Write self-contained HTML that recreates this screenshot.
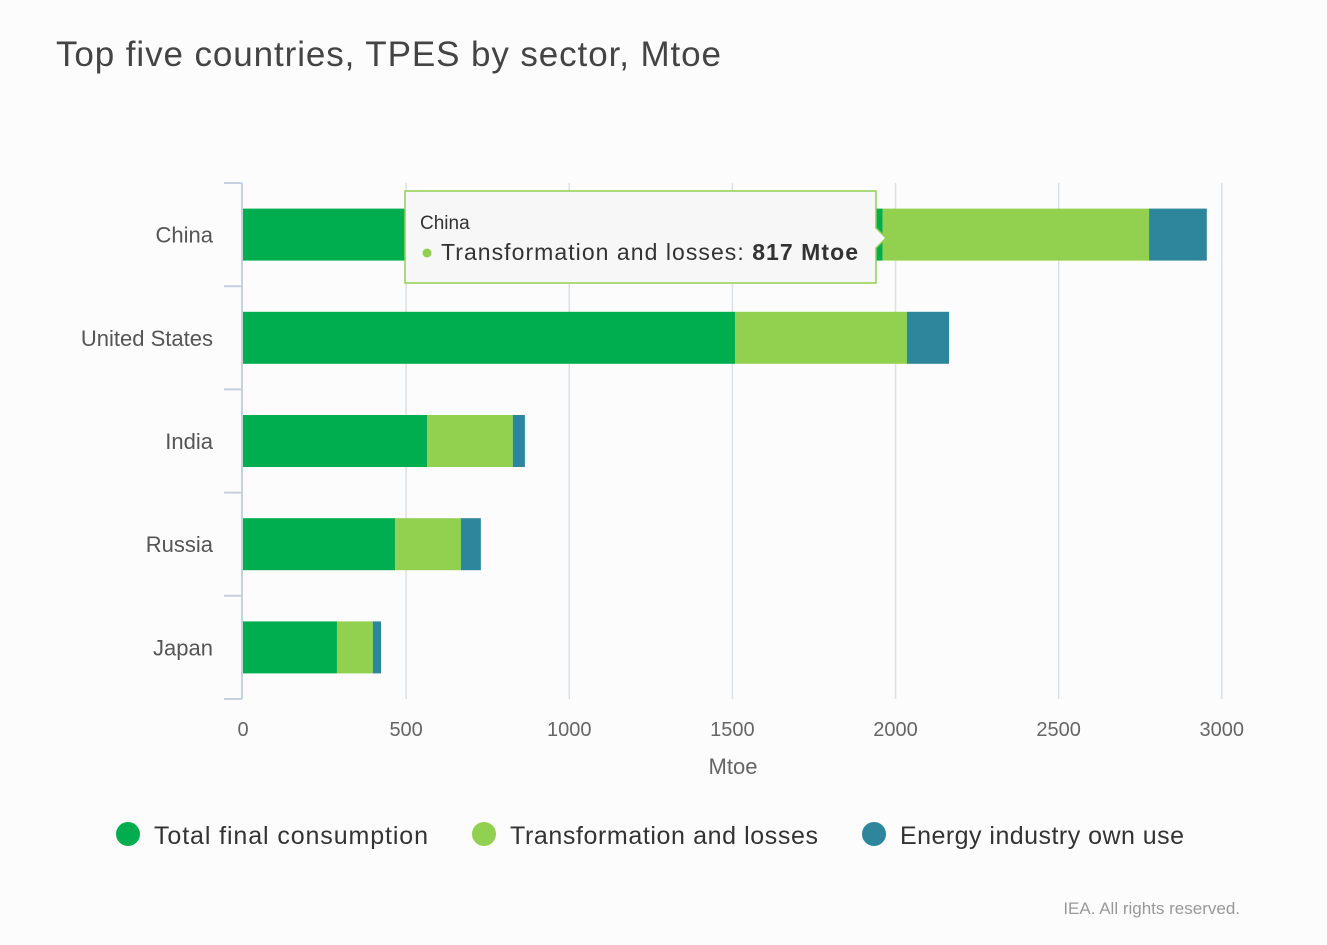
<!DOCTYPE html>
<html><head><meta charset="utf-8"><style>
body{margin:0;background:#fcfcfc;font-family:"Liberation Sans",sans-serif;}
#wrap{position:relative;width:1327px;height:945px;overflow:hidden;background:#fcfcfc}
</style></head><body>
<div id="wrap">
<svg id="chart" width="1327" height="945">
<text x="56" y="66" font-size="35" fill="#444" textLength="665">Top five countries, TPES by sector, Mtoe</text>
<g id="grid"></g><g id="bars"></g><g id="axes"></g>
<text x="733" y="774" text-anchor="middle" font-size="22" fill="#666">Mtoe</text>
<g>
<g><circle cx="128" cy="834" r="12" fill="#00ae4f"/><text x="154" y="844" font-size="25" fill="#333" textLength="274">Total final consumption</text></g>
<g><circle cx="484" cy="834" r="12" fill="#92d050"/><text x="510" y="844" font-size="25" fill="#333" textLength="308">Transformation and losses</text></g>
<g><circle cx="874" cy="834" r="12" fill="#2e869c"/><text x="900" y="844" font-size="25" fill="#333" textLength="284">Energy industry own use</text></g>
</g>
<text x="1240" y="914" text-anchor="end" font-size="17" fill="#999">IEA. All rights reserved.</text>
<g>
<path d="M405,191 H876 V228 L886,238 L876,248 V283 H405 Z" fill="#f7f7f7" stroke="#92d050" stroke-width="1.5"/>
<text x="420" y="229" font-size="19" fill="#333">China</text>
<circle cx="427" cy="253" r="4.5" fill="#92d050"/>
<text x="441" y="260" font-size="23" fill="#333" textLength="417">Transformation and losses: <tspan font-weight="bold">817 Mtoe</tspan></text>
</g>
</svg>
</div>
<script>
const categories=["China","United States","India","Russia","Japan"];
const totalFinal=[1960,1508,564,466,288];
const transformation=[817,527,263,202,110];
const ownUse=[177,129,37,61,25];
const xTicks=[0,500,1000,1500,2000,2500,3000];
const colors=["#00ae4f","#92d050","#2e869c"];
const ns="http://www.w3.org/2000/svg";
const x0=243,pxPer=0.32627,plotTop=183,band=103.2,barH=52;
const xs=v=>x0+v*pxPer;
function mk(t,a,p){const e=document.createElementNS(ns,t);for(const k in a)e.setAttribute(k,a[k]);p.appendChild(e);return e;}
const grid=document.getElementById('grid'),bars=document.getElementById('bars'),axes=document.getElementById('axes');
xTicks.forEach(t=>{
 if(t>0){const l=mk('line',{x1:xs(t),x2:xs(t),y1:plotTop,y2:plotTop+band*5,stroke:'#dde0e3','stroke-width':1.5},grid);
 
 }
 const tx=mk('text',{x:xs(t),y:736,'text-anchor':'middle','font-size':20,fill:'#666'},axes);tx.textContent=t;
 
 
});
const ax=mk('line',{x1:242,x2:242,y1:plotTop,y2:plotTop+band*5,stroke:'#c5d0e0','stroke-width':2},axes);


for(let i=0;i<=5;i++){const tk=mk('line',{x1:224,x2:242,y1:plotTop+band*i,y2:plotTop+band*i,stroke:'#c5d0e0','stroke-width':2},axes);
 
 }
categories.forEach((c,i)=>{
 const cy=plotTop+band*i+band/2;
 const lb=mk('text',{x:213,y:cy+8,'text-anchor':'end','font-size':22,fill:'#555'},axes);lb.textContent=c;
 
 
 const series=[totalFinal[i],transformation[i],ownUse[i]];let acc=0;
 series.forEach((v,j)=>{
  const r=mk('rect',{x:xs(acc),y:cy-barH/2,width:v*pxPer,height:barH,fill:colors[j]},bars);
  
  
  acc+=v;});
});
</script>
</body></html>
